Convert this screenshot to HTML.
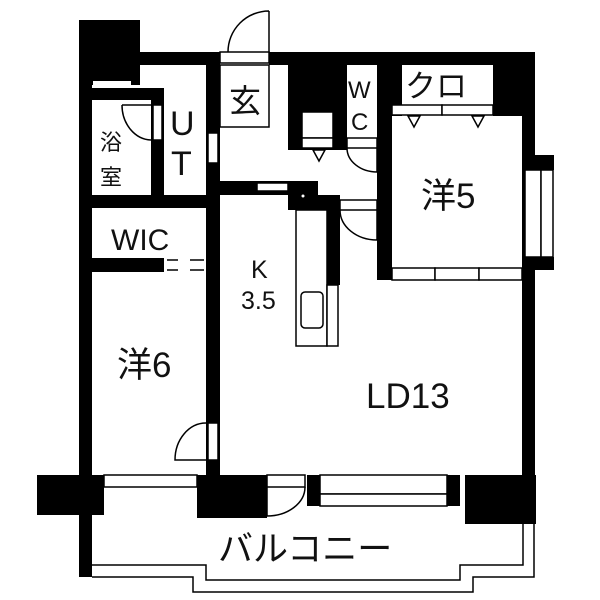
<!DOCTYPE html>
<html><head><meta charset="utf-8"><style>
html,body{margin:0;padding:0;background:#fff;}
svg{display:block}
text{font-family:"Liberation Sans","Noto Sans CJK JP",sans-serif;fill:#111;}
</style></head><body>
<svg width="600" height="600" viewBox="0 0 600 600" xmlns="http://www.w3.org/2000/svg">
<g fill="#000" stroke="none">
<rect x="79" y="20" width="61" height="65"/>
<rect x="79" y="20" width="13" height="557"/>
<rect x="140" y="52" width="80" height="13"/>
<rect x="269" y="52" width="266" height="13"/>
<rect x="288" y="52" width="59" height="98"/>
<rect x="377" y="52" width="25" height="64"/>
<rect x="493" y="52" width="42" height="64"/>
<rect x="522" y="52" width="13" height="472"/>
<rect x="522" y="155" width="32" height="15"/>
<rect x="522" y="257" width="32" height="13"/>
<rect x="377" y="52" width="15" height="228"/>
<rect x="92" y="88" width="72" height="12"/>
<rect x="151" y="88" width="13" height="107"/>
<rect x="206" y="52" width="14" height="143"/>
<rect x="79" y="195" width="141" height="13"/>
<rect x="220" y="181" width="98" height="14"/>
<rect x="288" y="181" width="30" height="29"/>
<rect x="318" y="195" width="22" height="15"/>
<rect x="327" y="200" width="13" height="85"/>
<rect x="92" y="258" width="72" height="14"/>
<rect x="206" y="208" width="14" height="267"/>
<rect x="37" y="475" width="67" height="40"/>
<rect x="197" y="475" width="70" height="43"/>
<rect x="307" y="475" width="13" height="31"/>
<rect x="447" y="475" width="13" height="31"/>
<rect x="465" y="475" width="71" height="49"/>
</g>
<g fill="#fff" stroke="#000" stroke-width="1.5">
<rect x="93" y="81" width="38" height="6" stroke="none"/>
<rect x="220" y="52" width="49" height="11"/>
<rect x="220" y="65" width="49" height="62"/>
<rect x="302" y="112" width="31" height="26"/>
<rect x="302" y="138" width="31" height="10"/>
<rect x="347" y="65" width="30" height="83" stroke="none"/>
<rect x="347" y="138" width="30" height="10"/>
<rect x="402" y="65" width="91" height="40" stroke="none"/>
<rect x="392" y="105" width="50" height="10"/>
<rect x="442" y="105" width="51" height="10"/>
<rect x="525" y="170" width="16" height="87"/>
<rect x="541" y="170" width="12" height="87"/>
<rect x="392" y="268" width="43" height="12"/>
<rect x="435" y="268" width="44" height="12"/>
<rect x="479" y="268" width="43" height="12"/>
<rect x="153" y="105" width="9" height="35"/>
<rect x="208" y="133" width="10" height="30"/>
<rect x="257" y="183" width="31" height="8"/>
<rect x="340" y="200" width="37" height="10"/>
<rect x="208" y="423" width="10" height="37"/>
<rect x="296" y="210" width="31" height="136"/>
<rect x="327" y="285" width="11" height="61"/>
<rect x="301" y="292" width="22" height="36" rx="4"/>
<rect x="104" y="475" width="93" height="12"/>
<rect x="267" y="475" width="38" height="12"/>
<rect x="320" y="475" width="127" height="19"/>
<rect x="320" y="494" width="127" height="12"/>
</g>
<g stroke="#000" stroke-width="1.5">
<line x1="167" y1="260" x2="178" y2="260"/><line x1="190" y1="260" x2="204" y2="260"/>
<line x1="167" y1="270" x2="178" y2="270"/><line x1="190" y1="270" x2="204" y2="270"/>
</g>
<g fill="none" stroke="#000" stroke-width="1.5">
<path d="M269 11 L269 52 M269 11 A41 41 0 0 0 228 52"/>
<path d="M122 105 L151 105 M122 105 A30 35 0 0 0 151 140"/>
<path d="M377 148 L377 172 M347 148 A30 24 0 0 0 377 172"/>
<path d="M340 210 A37 30 0 0 0 377 240 M377 210 L377 240"/>
<path d="M206 423 A31 37 0 0 0 175 460 L206 460"/>
<path d="M267 487 L267 516 A38 29 0 0 0 305 487"/>
<path d="M313 150 L325 150 L319 161 Z"/>
<path d="M408 116 L420 116 L414 127 Z"/>
<path d="M472 116 L484 116 L478 127 Z"/>
<path d="M534 524 L534 577 L473 577 L473 592 L193 592 L193 577 L92 577"/>
<path d="M523 524 L523 565 L460 565 L460 580 L206 580 L206 565 L92 565"/>
</g>
<circle cx="303" cy="196" r="1.5" fill="#fff"/>
<text x="229" y="112" font-size="32">玄</text>
<text x="348" y="98" font-size="24">W</text>
<text x="351" y="130" font-size="24">C</text>
<text x="405" y="97" font-size="31">クロ</text>
<text x="170" y="135" font-size="34">U</text>
<text x="171" y="175" font-size="34">T</text>
<text x="100" y="150" font-size="22">浴</text>
<text x="100" y="185" font-size="22">室</text>
<text x="111" y="250" font-size="30">WIC</text>
<text x="421" y="208" font-size="35">洋5</text>
<text x="117" y="377" font-size="35">洋6</text>
<text x="251" y="278" font-size="25">K</text>
<text x="241" y="309" font-size="25">3.5</text>
<text x="366" y="408" font-size="35">LD13</text>
<text x="218" y="561" font-size="35">バルコニー</text>
</svg>
</body></html>
